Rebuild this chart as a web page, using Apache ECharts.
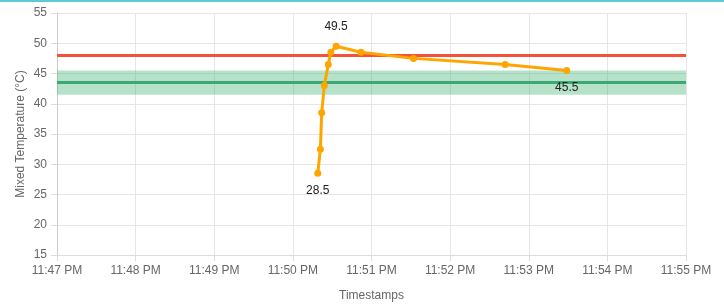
<!DOCTYPE html>
<html>
<head>
<meta charset="utf-8">
<script src="https://cdn.jsdelivr.net/npm/echarts@6/dist/echarts.min.js"></script>
<style>
  html, body { margin: 0; padding: 0; background: #fff; }
  #main { width: 724px; height: 304px; }
</style>
</head>
<body>
<div id="main"></div>
<script>
    // 数据区
    var times = ['23:50:19', '23:50:21', '23:50:22', '23:50:24', '23:50:27', '23:50:29',
                 '23:50:33', '23:50:52', '23:51:32', '23:52:42', '23:53:29'];
    var temps = [28.5, 32.5, 38.5, 43, 46.5, 48.5, 49.5, 48.5, 47.5, 46.5, 45.5];
    var upperLimit = 48;      // 红线
    var target = 43.5;        // 绿线
    var bandLow = 41.5;       // 绿色区间
    var bandHigh = 45.5;
    var labelIndexes = [0, 6, 10];   // 标注 28.5 / 49.5 / 45.5

    function toTs(hms) {
        var p = hms.split(':');
        return new Date(2024, 0, 1, +p[0], +p[1], +p[2]).getTime();
    }

    var seriesData = [];
    for (var i = 0; i < times.length; i++) {
        var item = { value: [toTs(times[i]), temps[i]] };
        if (labelIndexes.indexOf(i) >= 0) {
            item.label = {
                show: true,
                position: i === 6 ? 'top' : 'bottom',
                distance: i === 6 ? 10 : 8,
                formatter: function (p) { return p.value[1]; }
            };
        }
        seriesData.push(item);
    }

    function fmtTime(v) {
        var d = new Date(v);
        var h = d.getHours(), m = d.getMinutes();
        var ap = h >= 12 ? 'PM' : 'AM';
        h = h % 12; if (h === 0) h = 12;
        return h + ':' + (m < 10 ? '0' + m : m) + ' ' + ap;
    }

    var myChart = echarts.init(document.getElementById('main'));
    myChart.setOption({
        animation: false,
        textStyle: { fontFamily: '"Liberation Sans", Arial, sans-serif' },
        graphic: [{
            type: 'rect',
            shape: { x: 0, y: 0, width: 724, height: 2 },
            style: { fill: '#5ccad7' }
        }],
        grid: { left: 57, right: 38, top: 13, bottom: 49, outerBoundsMode: 'none' },
        xAxis: {
            type: 'time',
            min: toTs('23:47:00'),
            max: toTs('23:55:00'),
            interval: 60000,
            name: 'Timestamps',
            nameLocation: 'middle',
            nameGap: 35,
            nameMoveOverlap: false,
            nameTextStyle: { color: '#666', fontSize: 12 },
            axisLine: { show: true, lineStyle: { color: '#ddd' } },
            axisTick: { show: true, length: 6, lineStyle: { color: '#ddd' } },
            axisLabel: {
                color: '#666', fontSize: 12, margin: 10, formatter: fmtTime,
                showMinLabel: true, showMaxLabel: true, hideOverlap: false
            },
            splitLine: { show: true, lineStyle: { color: '#e6e6e6' } }
        },
        yAxis: {
            type: 'value',
            min: 15,
            max: 55,
            interval: 5,
            name: 'Mixed Temperature (°C)',
            nameLocation: 'middle',
            nameGap: 30,
            nameMoveOverlap: false,
            nameTextStyle: { color: '#666', fontSize: 12 },
            axisLine: { show: true, lineStyle: { color: '#ccc' } },
            axisTick: { show: true, length: 6, lineStyle: { color: '#ddd' } },
            axisLabel: { color: '#666', fontSize: 12, margin: 10 },
            splitLine: { show: true, lineStyle: { color: '#e6e6e6' } }
        },
        series: [
            {
                name: 'Mixed Temperature',
                type: 'line',
                data: seriesData,
                color: '#ffa500',
                lineStyle: { width: 3, color: '#ffa500' },
                symbol: 'circle',
                symbolSize: 7,
                itemStyle: { color: '#ffa500' },
                label: { color: '#222', fontSize: 12 },
                z: 5,
                markArea: {
                    silent: true,
                    itemStyle: { color: 'rgba(60, 179, 113, 0.38)' },
                    data: [[{ yAxis: bandLow }, { yAxis: bandHigh }]]
                },
                markLine: {
                    silent: true,
                    symbol: 'none',
                    label: { show: false },
                    data: [
                        { yAxis: upperLimit, lineStyle: { color: '#f4513a', width: 3, type: 'solid' } },
                        { yAxis: target, lineStyle: { color: '#3aaa72', width: 3, type: 'solid' } }
                    ]
                }
            }
        ]
    });
</script>
</body>
</html>
